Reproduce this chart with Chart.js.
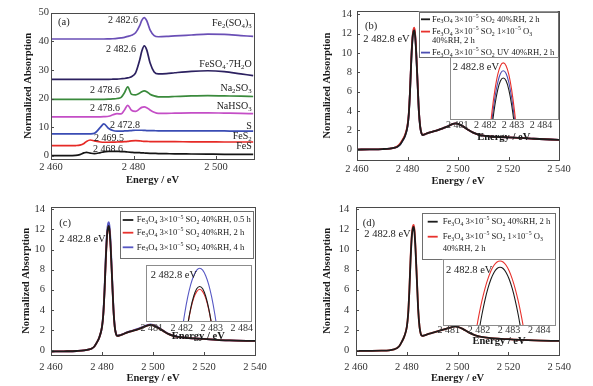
<!DOCTYPE html>
<html lang="en">
<head>
<meta charset="UTF-8">
<title>S K-edge XANES</title>
<script src="https://cdn.jsdelivr.net/npm/chart.js"></script>
<style>
  body { margin: 0; background: #fff; }
  .wrap { position: relative; width: 593px; height: 386px; overflow: hidden; }
  .wrap canvas { position: absolute; }
</style>
</head>
<body>
<div class="wrap">
  <canvas id="chartA" width="296" height="193" style="left:0px;top:0px"></canvas>
  <canvas id="chartB" width="297" height="193" style="left:296px;top:0px"></canvas>
  <canvas id="chartC" width="296" height="193" style="left:0px;top:193px"></canvas>
  <canvas id="chartD" width="297" height="193" style="left:296px;top:193px"></canvas>
  <canvas id="insetB" width="130" height="100" style="left:440px;top:50px"></canvas>
  <canvas id="insetC" width="130" height="95" style="left:135px;top:255px"></canvas>
  <canvas id="insetD" width="135" height="105" style="left:432px;top:250px"></canvas>
</div>

<script>
// ---- panel (a): reference compounds (stacked) ----
const energyA = [2460, 2462, 2464, 2466, 2467, 2468, 2468.6, 2469.5, 2470.5, 2472, 2472.8, 2474, 2475, 2476, 2477, 2477.8, 2478.6, 2479.5, 2480.5, 2481.5, 2482, 2482.6, 2483.2, 2484, 2485, 2486, 2488, 2490, 2494, 2498, 2502, 2506, 2509];
const fe2SO43 = [40.8, 40.8, 40.8, 40.8, 40.8, 40.8, 40.8, 40.8, 40.8, 40.8, 40.8, 40.85, 40.9, 41.0, 41.2, 41.4, 41.7, 42.1, 43.0, 45.5, 47.3, 48.3, 47.2, 44.0, 42.0, 41.6, 41.7, 41.9, 42.2, 42.5, 42.4, 42.0, 41.7];
const feSO4 = [26.7, 26.7, 26.7, 26.7, 26.7, 26.7, 26.7, 26.7, 26.7, 26.7, 26.7, 26.7, 26.75, 26.8, 26.9, 27.0, 27.2, 27.6, 29.0, 33.5, 36.5, 38.4, 37.0, 32.5, 29.3, 28.6, 28.7, 29.0, 29.5, 29.7, 29.4, 28.6, 28.0];
const na2SO3 = [19.7, 19.7, 19.7, 19.7, 19.7, 19.7, 19.7, 19.7, 19.7, 19.7, 19.7, 19.75, 19.85, 20.0, 20.4, 22.0, 24.1, 21.5, 21.3, 21.9, 22.4, 22.7, 22.4, 21.5, 20.9, 20.6, 20.6, 20.7, 20.9, 21.0, 20.9, 20.8, 20.7];
const naHSO3 = [13.6, 13.6, 13.6, 13.6, 13.6, 13.6, 13.6, 13.6, 13.6, 13.6, 13.65, 13.8, 14.3, 14.7, 14.6, 16.0, 17.6, 15.9, 15.5, 16.4, 16.9, 17.1, 16.8, 16.0, 15.2, 14.8, 14.8, 14.9, 15.0, 15.0, 14.9, 14.8, 14.7];
const sulfur = [7.6, 7.6, 7.6, 7.6, 7.6, 7.6, 7.6, 7.65, 7.8, 10.0, 11.1, 9.5, 8.8, 8.6, 8.6, 8.65, 8.7, 8.8, 8.9, 8.9, 8.9, 8.85, 8.8, 8.8, 8.75, 8.7, 8.7, 8.7, 8.7, 8.7, 8.65, 8.6, 8.6];
const feS2 = [3.5, 3.5, 3.5, 3.55, 3.7, 4.3, 5.0, 5.5, 5.2, 4.8, 4.7, 4.7, 4.75, 4.8, 4.85, 4.9, 5.0, 5.2, 5.3, 5.2, 5.1, 5.0, 5.0, 4.95, 4.9, 4.9, 4.9, 4.9, 4.85, 4.85, 4.8, 4.8, 4.8];
const feS = [0.0, 0.0, 0.0, 0.1, 0.4, 1.0, 1.2, 0.9, 0.7, 1.1, 1.35, 1.5, 1.55, 1.5, 1.45, 1.4, 1.3, 1.2, 1.1, 1.05, 1.0, 0.95, 0.9, 0.85, 0.8, 0.75, 0.7, 0.65, 0.6, 0.55, 0.5, 0.5, 0.5];
const xTicksA = [2460, 2480, 2500];
const yTicksA = [0, 10, 20, 30, 40, 50];

// ---- panels (b)-(d): Fe3O4 samples ----
const energy = [2460, 2465, 2470, 2473, 2475, 2476, 2477, 2478, 2479, 2480, 2480.5, 2481, 2481.5, 2482, 2482.4, 2482.7, 2483, 2483.4, 2484, 2484.5, 2485, 2485.5, 2486, 2487, 2488, 2490, 2492, 2494, 2496, 2498, 2499, 2500, 2502, 2504, 2506, 2508, 2510, 2513, 2516, 2520, 2525, 2530, 2540];
const b2h = [0.0, 0.02, 0.05, 0.1, 0.2, 0.3, 0.5, 0.9, 1.4, 2.4, 3.6, 6.0, 9.2, 11.5, 12.2, 12.33, 11.8, 10.2, 6.8, 4.0, 2.4, 1.7, 1.5, 1.6, 1.7, 1.85, 2.0, 2.2, 2.4, 2.65, 2.7, 2.65, 2.4, 2.05, 1.75, 1.55, 1.45, 1.35, 1.3, 1.25, 1.2, 1.12, 1.0];
const bO3 = [0.0, 0.02, 0.05, 0.1, 0.2, 0.35, 0.6, 1.0, 1.5, 2.5, 3.7, 6.1, 9.4, 11.7, 12.45, 12.6, 12.05, 10.4, 6.9, 4.05, 2.45, 1.72, 1.52, 1.6, 1.7, 1.85, 2.0, 2.2, 2.4, 2.65, 2.7, 2.65, 2.4, 2.05, 1.75, 1.55, 1.45, 1.35, 1.3, 1.25, 1.2, 1.12, 1.0];
const bUV = [0.0, 0.02, 0.05, 0.1, 0.2, 0.3, 0.5, 0.9, 1.4, 2.4, 3.6, 6.0, 9.3, 11.6, 12.35, 12.46, 11.95, 10.3, 6.85, 4.0, 2.4, 1.7, 1.5, 1.6, 1.7, 1.85, 2.0, 2.2, 2.4, 2.65, 2.7, 2.65, 2.4, 2.05, 1.75, 1.55, 1.45, 1.35, 1.3, 1.25, 1.2, 1.12, 1.0];
const c05h = [-0.15, -0.13, -0.1, -0.05, 0.05, 0.15, 0.35, 0.75, 1.3, 2.3, 3.5, 5.9, 9.1, 11.5, 12.2, 12.34, 11.8, 10.2, 6.8, 4.0, 2.3, 1.6, 1.4, 1.45, 1.55, 1.75, 1.9, 2.05, 2.25, 2.45, 2.5, 2.45, 2.2, 1.9, 1.6, 1.4, 1.3, 1.2, 1.15, 1.1, 1.0, 0.95, 0.9];
const c2h = [-0.15, -0.13, -0.1, -0.05, 0.05, 0.15, 0.35, 0.75, 1.3, 2.3, 3.5, 5.9, 9.0, 11.4, 12.15, 12.28, 11.75, 10.15, 6.8, 4.0, 2.3, 1.6, 1.4, 1.45, 1.55, 1.75, 1.9, 2.05, 2.25, 2.45, 2.5, 2.45, 2.2, 1.9, 1.6, 1.4, 1.3, 1.2, 1.15, 1.1, 1.0, 0.95, 0.9];
const c4h = [-0.15, -0.13, -0.1, -0.05, 0.05, 0.15, 0.35, 0.75, 1.3, 2.3, 3.6, 6.1, 9.4, 11.8, 12.6, 12.73, 12.2, 10.6, 7.0, 4.1, 2.35, 1.62, 1.42, 1.47, 1.57, 1.77, 1.93, 2.1, 2.3, 2.5, 2.55, 2.5, 2.25, 1.92, 1.62, 1.42, 1.3, 1.2, 1.15, 1.1, 1.0, 0.95, 0.9];
const d2h = [-0.1, -0.09, -0.07, -0.03, 0.07, 0.17, 0.37, 0.8, 1.35, 2.3, 3.5, 5.9, 9.1, 11.4, 12.13, 12.26, 11.75, 10.1, 6.7, 3.9, 2.3, 1.6, 1.4, 1.45, 1.55, 1.7, 1.85, 2.0, 2.15, 2.3, 2.35, 2.3, 2.1, 1.8, 1.55, 1.38, 1.28, 1.18, 1.12, 1.07, 1.0, 0.95, 0.9];
const dO3 = [-0.1, -0.09, -0.07, -0.03, 0.07, 0.17, 0.37, 0.8, 1.35, 2.3, 3.5, 6.0, 9.3, 11.6, 12.32, 12.45, 11.95, 10.3, 6.8, 3.95, 2.3, 1.6, 1.4, 1.45, 1.55, 1.7, 1.85, 2.0, 2.15, 2.3, 2.35, 2.3, 2.1, 1.8, 1.55, 1.38, 1.28, 1.18, 1.12, 1.07, 1.0, 0.95, 0.9];
const xTicks = [2460, 2480, 2500, 2520, 2540];
const yTicks = [0, 2, 4, 6, 8, 10, 12, 14];

// ---- insets: white-line peak top ----
const insetEnergyB = [2482.05, 2482.15, 2482.25, 2482.35, 2482.45, 2482.55, 2482.65, 2482.75, 2482.85, 2482.95, 2483.05, 2483.15, 2483.25];
const insetB2h = [10.42, 11.00, 11.48, 11.85, 12.12, 12.28, 12.33, 12.28, 12.12, 11.85, 11.48, 11.00, 10.42];
const insetBO3 = [10.69, 11.27, 11.75, 12.12, 12.39, 12.55, 12.60, 12.55, 12.39, 12.12, 11.75, 11.27, 10.69];
const insetBUV = [10.55, 11.13, 11.61, 11.98, 12.25, 12.41, 12.46, 12.41, 12.25, 11.98, 11.61, 11.13, 10.55];
const insetEnergyC = [2481.9, 2482.0, 2482.1, 2482.2, 2482.3, 2482.4, 2482.5, 2482.6, 2482.7, 2482.8, 2482.9, 2483.0, 2483.1, 2483.2, 2483.3];
const insetC05h = [9.79, 10.47, 11.04, 11.51, 11.87, 12.13, 12.29, 12.34, 12.29, 12.13, 11.87, 11.51, 11.04, 10.47, 9.79];
const insetC2h = [9.93, 10.55, 11.08, 11.51, 11.85, 12.09, 12.23, 12.28, 12.23, 12.09, 11.85, 11.51, 11.08, 10.55, 9.93];
const insetC4h = [10.82, 11.33, 11.76, 12.11, 12.38, 12.57, 12.69, 12.73, 12.69, 12.57, 12.38, 12.11, 11.76, 11.33, 10.82];
const insetEnergyD = [2481.8, 2481.9, 2482.0, 2482.1, 2482.2, 2482.3, 2482.4, 2482.5, 2482.6, 2482.7, 2482.8, 2482.9, 2483.0, 2483.1, 2483.2, 2483.3, 2483.4, 2483.5, 2483.6];
const insetD2h = [9.02, 9.70, 10.30, 10.82, 11.26, 11.62, 11.90, 12.10, 12.22, 12.26, 12.22, 12.10, 11.90, 11.62, 11.26, 10.82, 10.30, 9.70, 9.02];
const insetDO3 = [9.72, 10.29, 10.80, 11.24, 11.61, 11.91, 12.15, 12.32, 12.42, 12.45, 12.42, 12.32, 12.15, 11.91, 11.61, 11.24, 10.80, 10.29, 9.72];
const insetTicks = [2481, 2482, 2483, 2484];

const SERIF = '"Liberation Serif", "Times New Roman", serif';
const BLACK = '#1c1c1c', RED = '#e8322d', BLUE = '#4d4fb2';
const fmt = v => String(v).replace(/^(\d)(\d{3})/, '$1 $2');

// draw text, turning unicode sub/superscript digits into small offset glyphs
const SUB = '₀₁₂₃₄₅₆₇₈₉', SUP = '⁰¹²³⁴⁵⁶⁷⁸⁹⁻';
function splitRuns(text) {
  const out = [];
  for (const ch of text) {
    let kind = 'n', c = ch, k = SUB.indexOf(ch);
    if (k >= 0) { kind = 'sub'; c = String(k); }
    else if ((k = SUP.indexOf(ch)) >= 0) { kind = 'sup'; c = k === 10 ? '−' : String(k); }
    const last = out[out.length - 1];
    if (last && last.kind === kind) last.text += c; else out.push({ kind, text: c });
  }
  return out;
}
function drawRich(ctx, text, x, y, size, align) {
  const parts = splitRuns(text);
  const font = k => (k === 'n' ? size : size * 0.68) + 'px ' + SERIF;
  let w = 0;
  for (const p of parts) { ctx.font = font(p.kind); p.w = ctx.measureText(p.text).width; w += p.w; }
  let cx = align === 'right' ? x - w : align === 'center' ? x - w / 2 : x;
  ctx.textAlign = 'left';
  ctx.textBaseline = 'middle';
  for (const p of parts) {
    ctx.font = font(p.kind);
    const dy = p.kind === 'sub' ? size * 0.28 : p.kind === 'sup' ? -size * 0.32 : 0;
    ctx.fillText(p.text, cx, y + dy);
    cx += p.w;
  }
}

// box with inward ticks (and white fill for insets)
const framePlugin = {
  id: 'frame',
  beforeDatasetsDraw(chart, args, opts) {
    if (!opts.fill) return;
    const a = chart.chartArea, ctx = chart.ctx;
    ctx.save();
    ctx.fillStyle = opts.fill;
    ctx.fillRect(a.left, a.top, a.right - a.left, a.bottom - a.top);
    ctx.restore();
  },
  afterDraw(chart, args, opts) {
    const { ctx, chartArea: a, scales } = chart;
    const px = v => Math.round(v) + 0.5;
    ctx.save();
    ctx.strokeStyle = opts.color;
    ctx.lineWidth = 1;
    ctx.strokeRect(px(a.left), px(a.top), Math.round(a.right) - Math.round(a.left), Math.round(a.bottom) - Math.round(a.top));
    ctx.beginPath();
    scales.x.ticks.forEach(t => {
      const x = px(scales.x.getPixelForValue(t.value));
      ctx.moveTo(x, a.bottom); ctx.lineTo(x, a.bottom - opts.tick);
    });
    if (scales.y.options.display) {
      scales.y.ticks.forEach(t => {
        const y = px(scales.y.getPixelForValue(t.value));
        ctx.moveTo(a.left, y); ctx.lineTo(a.left + opts.tick, y);
      });
    }
    ctx.stroke();
    ctx.restore();
  }
};

// free text, offsets from the plot area's top-left corner
const notesPlugin = {
  id: 'notes',
  afterDraw(chart, args, opts) {
    const { ctx, chartArea: a } = chart;
    ctx.save();
    ctx.fillStyle = '#1a1a1a';
    opts.items.forEach(n => drawRich(ctx, n.text, a.left + n.x, a.top + n.y, n.size || 10, n.align || 'left'));
    ctx.restore();
  }
};

// framed legend inside the plot
const legendPlugin = {
  id: 'boxLegend',
  afterDraw(chart, args, o) {
    if (!o.show) return;
    const { ctx, chartArea: a } = chart;
    const L = a.left + o.x, T = a.top + o.y;
    ctx.save();
    ctx.fillStyle = '#fff';
    ctx.fillRect(L, T, o.w, o.h);
    ctx.strokeStyle = '#6e6e6e';
    ctx.lineWidth = 1;
    ctx.strokeRect(Math.round(L) + 0.5, Math.round(T) + 0.5, Math.round(o.w), Math.round(o.h));
    chart.data.datasets.forEach((ds, i) => {
      const y = T + o.rows[i];
      ctx.strokeStyle = ds.borderColor;
      ctx.lineWidth = 1.8;
      ctx.beginPath();
      ctx.moveTo(L + o.line[0], y); ctx.lineTo(L + o.line[1], y);
      ctx.stroke();
      ctx.fillStyle = '#1a1a1a';
      ds.label.split('\n').forEach((line, k) => drawRich(ctx, line, L + o.text, y + k * o.pitch, o.size, 'left'));
    });
    ctx.restore();
  }
};

function buildChart(id, spec) {
  return new Chart(document.getElementById(id), {
    type: 'line',
    data: {
      datasets: spec.series.map(s => ({
        label: s.label,
        data: spec.x.map((e, i) => ({ x: e, y: s.y[i] })),
        borderColor: s.color,
        borderWidth: spec.lineWidth,
        pointRadius: 0,
        fill: false,
        cubicInterpolationMode: 'monotone'
      }))
    },
    options: {
      responsive: false,
      animation: false,
      events: [],
      layout: { padding: spec.pad },
      plugins: {
        legend: { display: false },
        tooltip: { enabled: false },
        frame: spec.frame,
        notes: { items: spec.notes || [] },
        boxLegend: spec.legend || { show: false }
      },
      scales: {
        x: {
          type: 'linear',
          min: spec.xRange[0],
          max: spec.xRange[1],
          afterBuildTicks: s => { s.ticks = spec.xTicks.map(v => ({ value: v })); },
          afterFit: s => { s.height = spec.xHeight; },
          grid: { display: false, drawTicks: false },
          border: { display: false },
          ticks: {
            autoSkip: false, maxRotation: 0, padding: spec.xTickPad, color: '#333',
            font: { family: SERIF, size: spec.tickSize },
            callback: v => fmt(v)
          },
          title: {
            display: true, text: 'Energy / eV', color: '#1a1a1a',
            font: { family: SERIF, size: 10.5, weight: 'bold' },
            padding: { top: 0, bottom: spec.xTitlePad }
          }
        },
        y: spec.yTicks ? {
          min: spec.yRange[0],
          max: spec.yRange[1],
          afterBuildTicks: s => { s.ticks = spec.yTicks.map(v => ({ value: v })); },
          afterFit: s => { s.width = spec.yWidth; },
          grid: { display: false, drawTicks: false },
          border: { display: false },
          ticks: { padding: spec.yTickPad, color: '#333', font: { family: SERIF, size: 10.5 } },
          title: {
            display: true, text: 'Normalized Absorption', color: '#1a1a1a',
            font: { family: SERIF, size: 10.5, weight: 'bold' },
            padding: { top: spec.yTitlePad, bottom: 0 }
          }
        } : { display: false, min: spec.yRange[0], max: spec.yRange[1] }
      }
    },
    plugins: [framePlugin, notesPlugin, legendPlugin]
  });
}

const mainFrame = { color: '#4a4a4a', tick: 3 };
const insetFrame = { color: '#8c8c8c', tick: 0, fill: '#fff' };
const peakNote = (x, y) => ({ text: '2 482.8 eV', x, y, size: 10.5 });
const legendLabels = {
  base2h: 'Fe₃O₄ 3×10⁻⁵ SO₂ 40%RH, 2 h',
  o3: 'Fe₃O₄ 3×10⁻⁵ SO₂ 1×10⁻⁵ O₃\n40%RH, 2 h',
  uv: 'Fe₃O₄ 3×10⁻⁵ SO₂ UV 40%RH, 2 h'
};

// (a)
buildChart('chartA', {
  x: energyA,
  series: [
    { label: 'FeS', y: feS, color: '#151515' },
    { label: 'FeS₂', y: feS2, color: '#e62a26' },
    { label: 'S', y: sulfur, color: '#3a4cb4' },
    { label: 'NaHSO₃', y: naHSO3, color: '#c44ec6' },
    { label: 'Na₂SO₃', y: na2SO3, color: '#3a8a3c' },
    { label: 'FeSO₄·7H₂O', y: feSO4, color: '#2c2160' },
    { label: 'Fe₂(SO₄)₃', y: fe2SO43, color: '#6a4fb6' }
  ],
  lineWidth: 1.7,
  xRange: [2460, 2509.2], xTicks: xTicksA,
  yRange: [-1.15, 50], yTicks: yTicksA,
  pad: { left: 0, top: 12.7, right: 42, bottom: 0 },
  yWidth: 51, xHeight: 34, tickSize: 10.5,
  xTickPad: 2, yTickPad: 2, xTitlePad: 6.7, yTitlePad: 22,
  frame: mainFrame,
  notes: [
    { text: '(a)', x: 7, y: 10, size: 10.5 },
    { text: '2 482.6', x: 72, y: 7.3, align: 'center' },
    { text: '2 482.6', x: 70, y: 36.3, align: 'center' },
    { text: '2 478.6', x: 54, y: 77.3, align: 'center' },
    { text: '2 478.6', x: 54, y: 95.6, align: 'center' },
    { text: '2 472.8', x: 74, y: 112.3, align: 'center' },
    { text: '2 469.5', x: 58, y: 125.3, align: 'center' },
    { text: '2 468.6', x: 57, y: 136.3, align: 'center' },
    { text: 'Fe₂(SO₄)₃', x: 200.7, y: 10.6, align: 'right' },
    { text: 'FeSO₄·7H₂O', x: 200.7, y: 51.3, align: 'right' },
    { text: 'Na₂SO₃', x: 200.7, y: 75.6, align: 'right' },
    { text: 'NaHSO₃', x: 200.7, y: 94, align: 'right' },
    { text: 'S', x: 200.7, y: 113.3, align: 'right' },
    { text: 'FeS₂', x: 200.7, y: 124, align: 'right' },
    { text: 'FeS', x: 200.7, y: 134, align: 'right' }
  ]
});

// (b)
buildChart('chartB', {
  x: energy,
  series: [
    { label: legendLabels.base2h, y: b2h, color: BLACK },
    { label: legendLabels.o3, y: bO3, color: RED },
    { label: legendLabels.uv, y: bUV, color: BLUE }
  ],
  lineWidth: 1.8,
  xRange: [2460, 2540], xTicks: xTicks,
  yRange: [-1.08, 14.3], yTicks: yTicks,
  pad: { left: 0, top: 8, right: 34, bottom: 0 },
  yWidth: 61, xHeight: 33, tickSize: 10.5,
  xTickPad: 3, yTickPad: 5, xTitlePad: 5, yTitlePad: 25.4,
  frame: mainFrame,
  notes: [{ text: '(b)', x: 8, y: 14.7, size: 10.5 }, peakNote(6.3, 28)],
  legend: { show: true, x: 61.7, y: 0.3, w: 139, h: 44.7, rows: [7.7, 20, 41], pitch: 9.4, line: [2.3, 11.3], text: 13.3, size: 8.6 }
});

// (c)
buildChart('chartC', {
  x: energy,
  series: [
    { label: 'Fe₃O₄ 3×10⁻⁵ SO₂ 40%RH, 0.5 h', y: c05h, color: BLACK },
    { label: 'Fe₃O₄ 3×10⁻⁵ SO₂ 40%RH, 2 h', y: c2h, color: RED },
    { label: 'Fe₃O₄ 3×10⁻⁵ SO₂ 40%RH, 4 h', y: c4h, color: '#5758c4' }
  ],
  lineWidth: 1.8,
  xRange: [2460, 2540], xTicks: xTicks,
  yRange: [-0.5, 14.26], yTicks: yTicks,
  pad: { left: 0, top: 13.7, right: 41, bottom: 0 },
  yWidth: 51, xHeight: 31, tickSize: 10.5,
  xTickPad: 5.5, yTickPad: 6, xTitlePad: 1.4, yTitlePad: 20.4,
  frame: mainFrame,
  notes: [{ text: '(c)', x: 8.3, y: 16.7, size: 10.5 }, peakNote(8.3, 32.7)],
  legend: { show: true, x: 69, y: 4, w: 133.3, h: 47, rows: [9.3, 22, 36.6], pitch: 10, line: [2.7, 13.3], text: 16.7, size: 8.6 }
});

// (d)
buildChart('chartD', {
  x: energy,
  series: [
    { label: legendLabels.base2h, y: d2h, color: BLACK },
    { label: legendLabels.o3, y: dO3, color: RED }
  ],
  lineWidth: 1.8,
  xRange: [2460, 2540], xTicks: xTicks,
  yRange: [-0.5, 14.26], yTicks: yTicks,
  pad: { left: 0, top: 13.7, right: 33.7, bottom: 0 },
  yWidth: 60, xHeight: 31, tickSize: 10.5,
  xTickPad: 5.5, yTickPad: 6.7, xTitlePad: 1.4, yTitlePad: 25.4,
  frame: mainFrame,
  notes: [{ text: '(d)', x: 6.7, y: 16.7, size: 10.5 }, peakNote(8.3, 27.7)],
  legend: { show: true, x: 66, y: 6, w: 133.3, h: 46.3, rows: [9, 24], pitch: 11.6, line: [5.7, 15.7], text: 20.7, size: 8.6 }
});

// insets
buildChart('insetB', {
  x: insetEnergyB,
  series: [
    { label: 'b 2 h', y: insetB2h, color: BLACK },
    { label: 'b O3', y: insetBO3, color: RED },
    { label: 'b UV', y: insetBUV, color: BLUE }
  ],
  lineWidth: 1.1,
  xRange: [2480.73, 2484.6], xTicks: insetTicks,
  yRange: [11.6, 12.7],
  pad: { left: 9.7, top: 7.3, right: 12.3, bottom: 0 },
  xHeight: 31, tickSize: 10, xTickPad: 0, xTitlePad: 6.7,
  frame: insetFrame,
  notes: [peakNote(3, 10)]
});

buildChart('insetC', {
  x: insetEnergyC,
  series: [
    { label: 'c 0.5 h', y: insetC05h, color: BLACK },
    { label: 'c 2 h', y: insetC2h, color: RED },
    { label: 'c 4 h', y: insetC4h, color: '#5758c4' }
  ],
  lineWidth: 1.1,
  xRange: [2480.8, 2484.3], xTicks: insetTicks,
  yRange: [11.6, 12.8],
  pad: { left: 10.7, top: 10, right: 14.3, bottom: 0 },
  xHeight: 29, tickSize: 10, xTickPad: 1, xTitlePad: 7,
  frame: insetFrame,
  notes: [peakNote(5, 10)]
});

buildChart('insetD', {
  x: insetEnergyD,
  series: [
    { label: 'd 2 h', y: insetD2h, color: BLACK },
    { label: 'd O3', y: insetDO3, color: RED }
  ],
  lineWidth: 1.1,
  xRange: [2480.8, 2484.53], xTicks: insetTicks,
  yRange: [10.5, 12.5],
  pad: { left: 10.7, top: 9.3, right: 11.7, bottom: 0 },
  xHeight: 30, tickSize: 10, xTickPad: -1, xTitlePad: 7,
  frame: insetFrame,
  notes: [peakNote(3.3, 10.7)]
});
</script>
</body>
</html>
